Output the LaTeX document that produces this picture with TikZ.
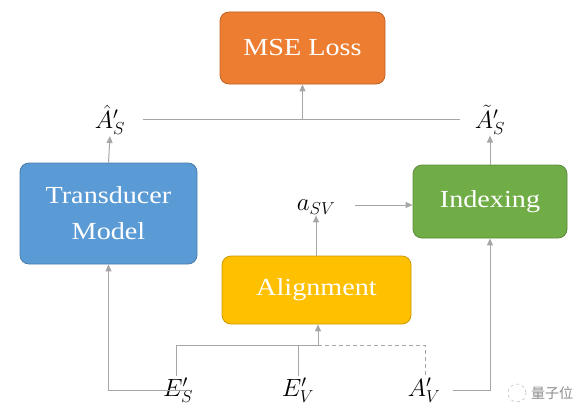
\documentclass[tikz,border=0pt]{standalone}
\usepackage{fontspec}
\setmainfont[FakeStretch=1.15]{Liberation Serif}
\newfontfamily\cjk{Noto Sans CJK SC}
\usetikzlibrary{arrows.meta}
\definecolor{orangebox}{HTML}{ED7D31}
\definecolor{bluebox}{HTML}{5B9BD5}
\definecolor{greenbox}{HTML}{70AD47}
\definecolor{goldbox}{HTML}{FFC000}
\definecolor{linegray}{HTML}{A6A6A6}
\tikzset{
  box/.style={rounded corners=9pt, draw=#1!80!black, fill=#1, text=white, line width=0.8pt,
    font=\fontsize{24.5}{36}\selectfont, align=center, inner sep=0pt},
  lbl/.style={font=\fontsize{25}{28}\selectfont, inner sep=1pt},
  conn/.style={draw=linegray, line width=1pt},
  arr/.style={conn, -{Triangle[length=7pt,width=6pt]}},
}
\begin{document}
\begin{tikzpicture}[x=1pt,y=-1pt]
\useasboundingbox (0,0) rectangle (586,420);
\node[box=orangebox, minimum width=165pt, minimum height=72pt] (mse) at (302.5,48) {MSE Loss};
\node[box=bluebox, minimum width=177pt, minimum height=101pt] (tm) at (108.5,213.5) {Transducer\\Model};
\node[box=greenbox, minimum width=154pt, minimum height=73pt] (idx) at (490,201.5) {Indexing};
\node[box=goldbox, minimum width=189pt, minimum height=68pt] (al) at (316.5,290) {Alignment};
\node[lbl] (ahat) at (110,120) {${\hat{A}}'_S$};
\node[lbl] (atil) at (490,120) {${\tilde{A}}'_S$};
\node[lbl] (asv) at (316,207) {$a_{SV}$};
\node[lbl] (es) at (178,390) {$E'_S$};
\node[lbl] (ev) at (298,390) {$E'_V$};
\node[lbl] (av) at (424,390) {$A'_V$};
\node[font=\cjk\fontsize{14}{16}\selectfont, text=black!45] (wm) at (552,393) {量子位};
\draw[linegray!70, line width=0.6pt, dashed] (517,393) circle (9pt);
% top connector
\coordinate (tl) at (143,119);
\coordinate (tr) at (460,119);
\draw[conn] (tl) -- (tr);
\draw[arr] (mse.south |- tl) -- (mse.south);
% up arrows to labels
\draw[arr] (tm.north) -- (ahat.south);
\draw[arr] (idx.north) -- (atil.south);
\draw[arr] (355,205) -- (idx.west |- 0,205);
\draw[arr] (al.north -| asv) -- (asv.south);
% bottom connectors
\coordinate (j) at (318,345);
\draw[conn] (es.north -| 176,0) |- (j);
\draw[conn] (ev.north -| 298,0) -- (298,345);
\draw[arr] (j) -- (al.south -| j);
\draw[conn, dashed, dash pattern=on 4pt off 3pt] (j) -| (av.north -| 425,0);
\draw[arr, shorten <=8pt] (es.east) -| (tm.south);
\draw[arr, shorten <=12pt] (av.east) -| (idx.south);
\end{tikzpicture}
\end{document}
